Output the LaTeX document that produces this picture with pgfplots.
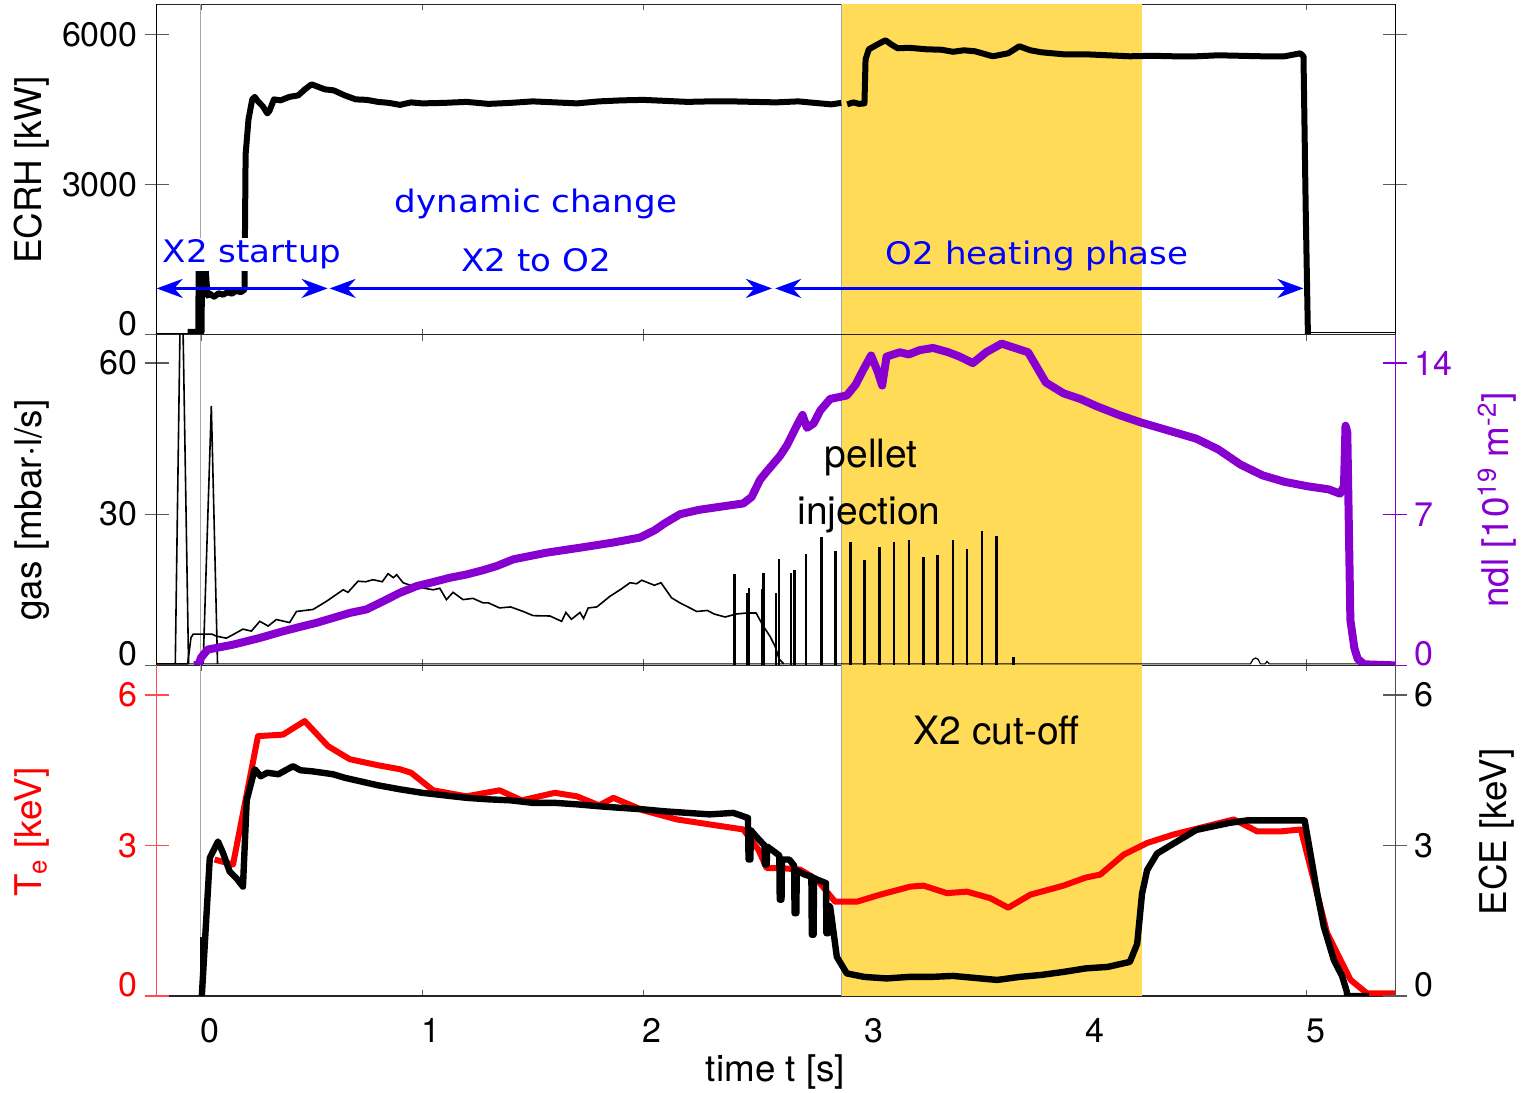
\documentclass[border=0pt]{standalone}
\usepackage{fontspec}
\setmainfont{TeX Gyre Heros}
\newfontfamily\annofont{DejaVu Sans}[FakeStretch=1.1]
\usepackage{pgfplots}
\pgfplotsset{compat=1.18}
\usetikzlibrary{arrows.meta}

\definecolor{bandyellow}{RGB}{255,219,88}
\definecolor{ndlpurple}{RGB}{136,0,208}
\definecolor{tickgray}{RGB}{90,90,90}

\newcommand{\ticksize}{\fontsize{17}{20}\selectfont}
\newcommand{\labelsize}{\fontsize{18.4}{22}\selectfont}
\newcommand{\annosize}{\annofont\fontsize{15.5}{18}\selectfont}
\newcommand{\notesize}{\fontsize{19.5}{22}\selectfont}

\pgfplotsset{
  panel/.style={
    scale only axis, width=619.3pt, height=165.3pt,
    xmin=-0.2, xmax=5.4, anchor=south west,
    tick align=inside,
    /pgf/number format/assume math mode=true,
    tick label style={font=\ticksize},
    tick style={line width=0.6pt},
  },
  frame/.style={panel, ymin=0, ymax=1, ytick=\empty,
    xtick={0,1,2,3,4,5}, xticklabels={}, major tick length=3pt,
    xtick style={color=tickgray},
    axis line style={color=black!85, line width=0.6pt}},
  lefty/.style={panel, hide x axis, axis y line=left, major tick length=12pt,
    y axis line style={-, line width=0.6pt}},
  righty/.style={panel, hide x axis, axis y line=right, major tick length=12pt,
    y axis line style={-, line width=0.6pt}},
  zerolabel/.style={extra y ticks={0}, extra y tick labels={0},
    extra y tick style={grid=none, yticklabel style={yshift=5.75pt}}},
}

\begin{document}
\begin{tikzpicture}
\useasboundingbox (-78.35pt,-48.5pt) rectangle (683.15pt,498pt);

% ---------------- top panel: ECRH power ----------------
\begin{axis}[frame, at={(0pt,330.6pt)}]
  \addplot[fill=bandyellow, draw=none] coordinates {(2.898,1) (4.253,1)} \closedcycle;
  \addplot[gray!70, line width=0.5pt] coordinates {(0,0) (0,1)};
  \addplot[gray!70, line width=0.5pt] coordinates {(2.898,0) (2.898,1)};
\end{axis}
\begin{axis}[lefty, at={(0pt,330.6pt)}, ymin=0, ymax=6600,
  ytick={3000,6000}, yticklabels={3000,6000}, zerolabel,
  ytick style={color=tickgray}, y axis line style={black}]
  \addplot[black, line width=0.6pt] coordinates {(-0.2,30) (-0.06,30)};
  \addplot[black, line width=0.6pt] coordinates {(5.005,40) (5.4,40)};
  \addplot[black, line width=3pt, line join=round] coordinates {
    (-0.06,60) (-0.012,60) (-0.01,1500) (-0.004,1500) (-0.002,60) (0.003,60)
    (0.005,1500) (0.018,1500) (0.03,780) (0.04,820) (0.06,760) (0.08,830)
    (0.1,800) (0.12,850) (0.14,820) (0.16,880) (0.18,850) (0.197,900)
    (0.202,3600) (0.215,4300) (0.232,4700) (0.243,4750) (0.26,4650) (0.28,4560)
    (0.3,4420) (0.31,4470) (0.33,4700) (0.36,4680) (0.4,4750) (0.44,4780)
    (0.47,4900) (0.5,5000) (0.53,4950) (0.56,4900) (0.6,4880) (0.65,4780)
    (0.7,4700) (0.75,4690) (0.8,4650) (0.85,4630) (0.9,4590) (0.95,4640)
    (1.0,4620) (1.1,4630) (1.2,4650) (1.3,4610) (1.4,4630) (1.5,4660)
    (1.6,4640) (1.7,4620) (1.8,4660) (1.9,4680) (2.0,4690) (2.1,4670)
    (2.2,4650) (2.3,4660) (2.4,4660) (2.5,4650) (2.6,4640) (2.7,4660)
    (2.8,4620) (2.85,4600) (2.895,4630)};
  \addplot[black, line width=3pt, line join=round] coordinates {
    (2.922,4600) (2.95,4640) (2.975,4610) (3.0,4620) (3.005,5500) (3.02,5700)
    (3.06,5800) (3.095,5880) (3.12,5800) (3.15,5720) (3.2,5730) (3.28,5700)
    (3.35,5690) (3.4,5650) (3.45,5680) (3.5,5660) (3.58,5560) (3.65,5620)
    (3.7,5760) (3.75,5680) (3.8,5640) (3.9,5600) (4.0,5600) (4.1,5580)
    (4.2,5560) (4.3,5570) (4.4,5560) (4.5,5560) (4.6,5580) (4.7,5570)
    (4.8,5560) (4.9,5560) (4.97,5620) (4.985,5560) (4.995,2500) (5.005,0)};
\end{axis}
\begin{axis}[righty, at={(0pt,330.6pt)}, ymin=0, ymax=6600,
  ytick={3000,6000}, yticklabels={}, ytick style={color=tickgray},
  y axis line style={black}]
  \node[text=blue, font=\annosize, fill=white, inner sep=1pt, anchor=base]
    at (axis cs:0.232,1437) {X2 startup};
  \node[text=blue, font=\annosize, anchor=base] at (axis cs:1.515,2439) {dynamic change};
  \node[text=blue, font=\annosize, anchor=base] at (axis cs:1.515,1264) {X2 to O2};
  \node[text=blue, font=\annosize, anchor=base] at (axis cs:3.781,1404) {O2 heating phase};
  \draw[blue, line width=1.5pt, {Stealth[length=13pt,width=9.5pt]}-{Stealth[length=13pt,width=9.5pt]}]
    (axis cs:-0.2,926) -- (axis cs:0.573,926);
  \draw[blue, line width=1.5pt, {Stealth[length=13pt,width=9.5pt]}-{Stealth[length=13pt,width=9.5pt]}]
    (axis cs:0.582,926) -- (axis cs:2.582,926);
  \draw[blue, line width=1.5pt, {Stealth[length=13pt,width=9.5pt]}-{Stealth[length=13pt,width=9.5pt]}]
    (axis cs:2.596,926) -- (axis cs:4.985,926);
\end{axis}

% ---------------- middle panel: gas puff and line density ----------------
\begin{axis}[frame, at={(0pt,165.3pt)}]
  \addplot[fill=bandyellow, draw=none] coordinates {(2.898,1) (4.253,1)} \closedcycle;
  \addplot[gray!70, line width=0.5pt] coordinates {(0,0) (0,1)};
  \addplot[gray!70, line width=0.5pt] coordinates {(2.898,0) (2.898,1)};
\end{axis}
\begin{axis}[lefty, at={(0pt,165.3pt)}, ymin=0, ymax=65.6,
  ytick={30,60}, yticklabels={30,60}, zerolabel,
  ytick style={color=tickgray}, y axis line style={black}]
  % baseline of the gas valves
  \addplot[black, line width=0.6pt] coordinates {
    (-0.2,0.3) (4.745,0.3) (4.757,1.2) (4.768,1.47) (4.78,1.2) (4.79,0.3)
    (4.812,0.3) (4.82,0.8) (4.83,0.3) (5.4,0.3)};
  % startup puffs
  \addplot[black, line width=0.8pt] coordinates {
    (-0.116,0.3) (-0.092,75) (-0.084,75) (-0.056,0.3)};
  \addplot[black, line width=0.8pt] coordinates {
    (0.01,0.3) (0.047,51.5) (0.075,0.3)};
  % feedback-controlled gas flow
  \addplot[black, line width=0.8pt] coordinates {
    (-0.2,0.3) (-0.06,0.3) (-0.045,5.5) (-0.035,6.2) (0.05,6.2) (0.07,5.8)
    (0.115,5.4) (0.145,6.1) (0.19,7.2) (0.228,6.8) (0.266,8.75) (0.304,7.8)
    (0.341,9.1) (0.401,8.5) (0.432,10.7) (0.507,11.1) (0.567,12.7) (0.643,15.0)
    (0.665,14.5) (0.71,16.7) (0.745,16.6) (0.778,17.0) (0.82,16.6) (0.846,18.2)
    (0.87,17.4) (0.885,18.0) (0.914,16.4) (0.96,15.7) (1.05,15.0) (1.08,15.3)
    (1.11,13.05) (1.14,14.5) (1.185,13.05) (1.23,13.3) (1.276,12.4) (1.3,12.4)
    (1.35,11.4) (1.4,11.6) (1.457,10.7) (1.502,9.87) (1.578,9.8) (1.631,8.74)
    (1.65,10.5) (1.675,9.15) (1.714,10.5) (1.73,9.3) (1.751,11.4) (1.79,11.6)
    (1.849,13.7) (1.895,15.0) (1.94,16.4) (1.97,16.2) (1.993,16.9) (2.05,15.9)
    (2.08,16.4) (2.128,13.4) (2.166,12.4) (2.242,10.7) (2.29,10.9) (2.32,10.2)
    (2.37,9.6) (2.42,10.2) (2.468,10.4) (2.51,10.4) (2.543,7.75) (2.573,5.76)
    (2.596,3.77) (2.615,1.2) (2.635,0.3)};
  % pellet injector signal
  \addplot[black, ycomb, line width=1.3pt] coordinates {
    (2.412,18.16) (2.472,14.38) (2.478,15.37) (2.536,15.24) (2.543,18.36)
    (2.600,14.38) (2.614,21.2) (2.667,18.36) (2.683,19.01) (2.736,22.19)
    (2.807,25.5) (2.869,22.65) (2.937,24.5) (3.0,20.86) (3.067,23.5)
    (3.134,24.5) (3.202,24.8) (3.266,21.5) (3.329,22.0) (3.4,24.8)
    (3.463,23.0) (3.531,26.6) (3.596,25.6) (3.674,1.6)};
\end{axis}
\begin{axis}[righty, at={(0pt,165.3pt)}, ymin=0, ymax=15.31,
  ytick={7,14}, yticklabels={7,14}, zerolabel,
  ytick style={color=ndlpurple}, y axis line style={ndlpurple},
  yticklabel style={text=ndlpurple}]
  \addplot[ndlpurple, line width=4pt, line join=round] coordinates {
    (-0.03,0) (-0.01,0.05) (0.0,0.35) (0.03,0.73) (0.145,0.96) (0.266,1.27)
    (0.371,1.58) (0.447,1.78) (0.522,1.97) (0.598,2.2) (0.673,2.43) (0.748,2.59)
    (0.824,2.97) (0.899,3.36) (0.975,3.67) (1.05,3.86) (1.126,4.06) (1.201,4.21)
    (1.276,4.41) (1.337,4.6) (1.412,4.91) (1.563,5.22) (1.714,5.45) (1.864,5.69)
    (1.985,5.92) (2.05,6.25) (2.1,6.6) (2.166,7.0) (2.25,7.2) (2.35,7.35)
    (2.452,7.5) (2.49,7.8) (2.528,8.6) (2.56,9.0) (2.618,9.7) (2.65,10.2)
    (2.694,11.1) (2.72,11.6) (2.74,11.0) (2.77,11.2) (2.8,11.8) (2.845,12.34)
    (2.92,12.5) (2.96,13.0) (2.995,13.7) (3.03,14.35) (3.06,13.6) (3.08,12.96)
    (3.1,14.3) (3.16,14.5) (3.2,14.4) (3.25,14.6) (3.31,14.7) (3.38,14.5)
    (3.43,14.3) (3.49,14.0) (3.55,14.5) (3.62,14.9) (3.68,14.7) (3.74,14.5)
    (3.82,13.1) (3.9,12.6) (3.976,12.34) (4.05,12.0) (4.15,11.6) (4.25,11.25)
    (4.4,10.8) (4.5,10.5) (4.6,10.0) (4.7,9.3) (4.8,8.8) (4.9,8.5) (5.0,8.3)
    (5.1,8.15) (5.15,7.95) (5.168,8.3) (5.175,11.1) (5.183,10.8) (5.197,2.1)
    (5.215,0.8) (5.23,0.3) (5.26,0.05) (5.4,0.0)};
  \node[font=\notesize, anchor=base] at (axis cs:3.03,9.17) {pellet};
  \node[font=\notesize, anchor=base] at (axis cs:3.021,6.52) {injection};
\end{axis}

% ---------------- bottom panel: electron temperature ----------------
\begin{axis}[frame, at={(0pt,0pt)}, xticklabels={0,1,2,3,4,5},
  xticklabel style={anchor=center, xshift=4.5pt, yshift=-17.25pt}]
  \addplot[fill=bandyellow, draw=none] coordinates {(2.898,1) (4.253,1)} \closedcycle;
  \addplot[gray!70, line width=0.5pt] coordinates {(0,0) (0,1)};
  \addplot[gray!70, line width=0.5pt] coordinates {(2.898,0) (2.898,1)};
\end{axis}
\begin{axis}[lefty, at={(0pt,0pt)}, ymin=0, ymax=6.59,
  ytick={3,6}, yticklabels={3,6}, zerolabel,
  ytick style={color=red!70}, y axis line style={red!70},
  yticklabel style={text=red}]
  \addplot[red, line width=3pt, line join=round] coordinates {
    (0.062,2.72) (0.145,2.62) (0.258,5.18) (0.371,5.21) (0.469,5.48) (0.575,4.98)
    (0.673,4.72) (0.8,4.6) (0.9,4.52) (0.95,4.45) (1.05,4.1) (1.2,3.98)
    (1.35,4.1) (1.45,3.9) (1.6,4.05) (1.7,3.98) (1.8,3.8) (1.865,3.95)
    (2.0,3.7) (2.151,3.52) (2.3,3.42) (2.452,3.32) (2.52,2.92) (2.558,2.55)
    (2.619,2.55) (2.709,2.52) (2.785,2.32) (2.867,1.88) (2.966,1.88) (3.071,2.02)
    (3.207,2.18) (3.267,2.2) (3.373,2.05) (3.463,2.08) (3.569,1.95) (3.65,1.76)
    (3.75,2.02) (3.9,2.2) (4.0,2.36) (4.066,2.42) (4.173,2.82) (4.278,3.05)
    (4.398,3.22) (4.67,3.52) (4.776,3.28) (4.88,3.28) (4.973,3.32) (5.092,1.25)
    (5.198,0.32) (5.273,0.05) (5.4,0.05)};
\end{axis}
\begin{axis}[righty, at={(0pt,0pt)}, ymin=0, ymax=6.59,
  ytick={3,6}, yticklabels={3,6}, zerolabel,
  ytick style={color=tickgray}, y axis line style={black!70}]
  \addplot[black, line width=0.6pt] coordinates {(0,0) (0,1.18)};
  \addplot[black, line width=3.2pt, line join=round] coordinates {
    (0.0,0) (0.004,0) (0.04,2.75) (0.077,3.08) (0.1,2.85) (0.13,2.48) (0.16,2.35)
    (0.19,2.18) (0.2,3.2) (0.207,3.9) (0.243,4.52) (0.27,4.38) (0.3,4.45)
    (0.35,4.42) (0.416,4.58) (0.45,4.5) (0.5,4.48) (0.55,4.45) (0.597,4.42)
    (0.65,4.35) (0.7,4.3) (0.75,4.25) (0.8,4.2) (0.9,4.12) (1.0,4.05) (1.1,4.0)
    (1.2,3.95) (1.3,3.92) (1.4,3.9) (1.5,3.85) (1.6,3.85) (1.7,3.82) (1.805,3.78)
    (1.9,3.75) (2.0,3.72) (2.1,3.68) (2.2,3.65) (2.3,3.62) (2.407,3.65)
    (2.473,3.55) (2.476,2.72) (2.484,2.72) (2.487,3.3) (2.51,3.18) (2.548,3.0)
    (2.55,2.62) (2.558,2.62) (2.56,2.98) (2.6,2.85) (2.615,2.8) (2.617,1.92)
    (2.625,1.92) (2.627,2.72) (2.66,2.72) (2.682,2.6) (2.684,1.65) (2.692,1.65)
    (2.694,2.5) (2.73,2.42) (2.76,2.38) (2.762,1.22) (2.77,1.22) (2.772,2.35)
    (2.786,2.32) (2.826,2.25) (2.828,1.25) (2.836,1.25) (2.838,1.8) (2.845,1.78)
    (2.875,0.78) (2.92,0.45) (3.0,0.38) (3.1,0.35) (3.2,0.38) (3.3,0.38)
    (3.4,0.4) (3.5,0.36) (3.6,0.32) (3.7,0.38) (3.8,0.42) (3.9,0.48) (4.0,0.55)
    (4.1,0.58) (4.2,0.68) (4.233,1.04) (4.255,2.04) (4.278,2.51) (4.323,2.84)
    (4.398,3.04) (4.5,3.31) (4.65,3.45) (4.73,3.5) (4.88,3.5) (4.99,3.5)
    (5.01,3.0) (5.047,2.05) (5.077,1.38) (5.122,0.72) (5.16,0.39) (5.18,0.1)
    (5.183,0) (5.28,0)};
  \node[font=\notesize, anchor=base] at (axis cs:3.598,5.01) {X2 cut-off};
\end{axis}

% axis titles
\node[rotate=90, font=\labelsize] at (-62.35pt,413pt) {ECRH [kW]};
\node[rotate=90, font=\labelsize] at (-62.35pt,243pt) {gas [mbar\textperiodcentered l/s]};
\node[rotate=90, font=\labelsize, text=red] at (-62.35pt,82pt) {T\textsubscript{e} [keV]};
\node[rotate=90, font=\labelsize, text=ndlpurple] at (670.15pt,248pt) {ndl [10\textsuperscript{19} m\textsuperscript{-2}]};
\node[rotate=90, font=\labelsize] at (670.15pt,82pt) {ECE [keV]};
\node[font=\labelsize] at (309.4pt,-38pt) {time t [s]};
\end{tikzpicture}
\end{document}
